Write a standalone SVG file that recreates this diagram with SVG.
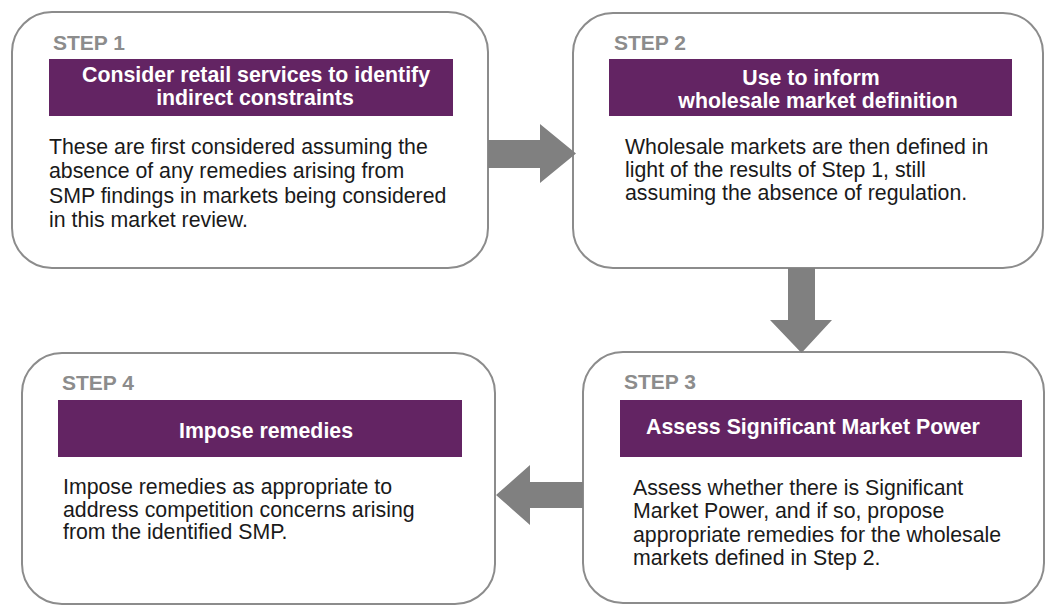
<svg xmlns="http://www.w3.org/2000/svg" width="1045" height="606" viewBox="0 0 1045 606">
<style>
.box{fill:#ffffff;stroke:#8c8c8c;stroke-width:2}
.band{fill:#632463}
.step{font-family:"Liberation Sans",Arial,sans-serif;font-size:21px;font-weight:bold;fill:#8c8c8c}
.title{font-family:"Liberation Sans",Arial,sans-serif;font-size:21.3px;font-weight:bold;fill:#ffffff;text-anchor:middle}
.body{font-family:"Liberation Sans",Arial,sans-serif;font-size:21.3px;fill:#1a1a1a}
.arrow{fill:#808080}
</style>
<rect width="1045" height="606" fill="#ffffff"/>
<g id="step1">
<rect class="box" x="12" y="12" width="476" height="256" rx="40" ry="40"/>
<text class="step" x="53" y="50">STEP 1</text>
<rect class="band" x="49" y="59" width="404" height="57"/>
<text class="title" x="256" y="82">Consider retail services to identify</text>
<text class="title" x="255" y="105">indirect constraints</text>
<text class="body" x="49" y="154">These are first considered assuming the</text>
<text class="body" x="49" y="178">absence of any remedies arising from</text>
<text class="body" x="49" y="203">SMP findings in markets being considered</text>
<text class="body" x="49" y="227">in this market review.</text>
</g>
<g id="step2">
<rect class="box" x="573" y="13" width="470" height="255" rx="40" ry="40"/>
<text class="step" x="614" y="50">STEP 2</text>
<rect class="band" x="609" y="59" width="403" height="57"/>
<text class="title" x="811" y="85">Use to inform</text>
<text class="title" x="818" y="108">wholesale market definition</text>
<text class="body" x="625" y="154">Wholesale markets are then defined in</text>
<text class="body" x="625" y="177">light of the results of Step 1, still</text>
<text class="body" x="625" y="200">assuming the absence of regulation.</text>
</g>
<g id="step3">
<rect class="box" x="583" y="352" width="461" height="251" rx="40" ry="40"/>
<text class="step" x="624" y="389">STEP 3</text>
<rect class="band" x="620" y="400" width="402" height="57"/>
<text class="title" x="813" y="434">Assess Significant Market Power</text>
<text class="body" x="633" y="495">Assess whether there is Significant</text>
<text class="body" x="633" y="518">Market Power, and if so, propose</text>
<text class="body" x="633" y="542">appropriate remedies for the wholesale</text>
<text class="body" x="633" y="565">markets defined in Step 2.</text>
</g>
<g id="step4">
<rect class="box" x="22" y="353" width="473" height="251" rx="40" ry="40"/>
<text class="step" x="62" y="390">STEP 4</text>
<rect class="band" x="58" y="400" width="404" height="57"/>
<text class="title" x="266" y="438">Impose remedies</text>
<text class="body" x="63" y="494">Impose remedies as appropriate to</text>
<text class="body" x="63" y="517">address competition concerns arising</text>
<text class="body" x="63" y="539">from the identified SMP.</text>
</g>
<g id="connectors">
<polygon class="arrow" points="488,140 540,140 540,124 576,153.5 540,183 540,168 488,168"/>
<polygon class="arrow" points="788,268 815,268 815,320 832,320 801.5,353 770,320 788,320"/>
<polygon class="arrow" points="583,482 530,482 530,465 496,495 530,525 530,508 583,508"/>
</g>
</svg>
